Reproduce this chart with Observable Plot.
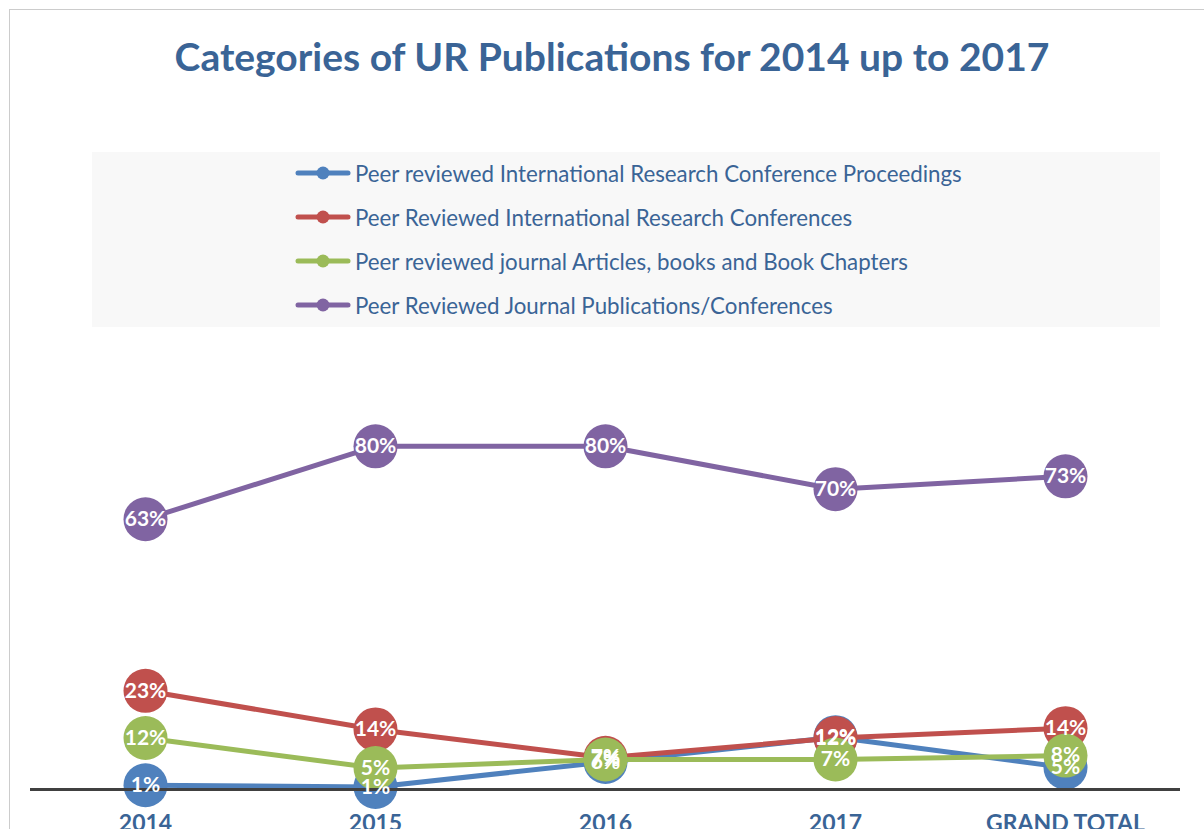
<!DOCTYPE html>
<html><head><meta charset="utf-8">
<script src="https://cdn.jsdelivr.net/npm/d3@7"></script>
<script src="https://cdn.jsdelivr.net/npm/@observablehq/plot@0.6"></script>
<style>
body{margin:0;background:#fff;width:1204px;height:829px;overflow:hidden;position:relative;font-family:Lato,sans-serif;}
#frame{position:absolute;left:9px;top:9px;width:1300px;height:900px;border:1.5px solid #cccccc;}
#title{position:absolute;left:0;top:33px;width:1224px;text-align:center;font-weight:bold;font-size:39px;color:#3a6496;}
#legend{position:absolute;left:92px;top:152px;width:1068px;height:175px;background:#f8f8f8;}
.item{position:absolute;left:203px;height:30px;display:flex;align-items:center;font-size:22.3px;color:#3a6496;white-space:nowrap;}
.item svg{margin-right:4px;}
#chart{position:absolute;left:0;top:340px;}
</style></head><body>
<div id="frame"></div>
<div id="title">Categories of UR Publications for 2014 up to 2017</div>
<div id="legend"></div>
<div id="chart"></div>
<script>
const categories = ["2014", "2015", "2016", "2017", "GRAND TOTAL"];
const seriesNames = [
  "Peer reviewed International Research Conference Proceedings",
  "Peer Reviewed International Research Conferences",
  "Peer reviewed journal Articles, books and Book Chapters",
  "Peer Reviewed Journal Publications/Conferences"
];
const seriesColors = ["#4f81bd", "#c0504d", "#9bbb59", "#8064a2"];
const proceedingsValues = [1.0, 0.6, 6.4, 12.2, 5.1];
const conferencesValues = [23, 14, 7.4, 12.0, 14.3];
const articlesValues = [12, 5, 7.0, 7.0, 7.9];
const journalValues = [63, 80, 80, 70, 73];

const allValues = [proceedingsValues, conferencesValues, articlesValues, journalValues];
const data = [];
allValues.forEach((vals, s) => vals.forEach((v, i) => data.push({series: seriesNames[s], color: seriesColors[s], cat: categories[i], value: v})));

// legend
const legend = document.getElementById("legend");
seriesNames.forEach((name, i) => {
  const div = document.createElement("div");
  div.className = "item";
  div.style.top = (173 - 152 - 15 + i * 44) + "px";
  const c = seriesColors[i];
  div.innerHTML = `<svg width="56" height="14"><line x1="3" y1="7" x2="53" y2="7" stroke="${c}" stroke-width="5" stroke-linecap="round"/><circle cx="28" cy="7" r="6.5" fill="${c}"/></svg><span>${name}</span>`;
  legend.appendChild(div);
});

const marks = [];
seriesNames.forEach((name, s) => {
  const d = data.filter(r => r.series === name);
  marks.push(Plot.line(d, {x: "cat", y: "value", stroke: seriesColors[s], strokeWidth: 5}));
  marks.push(Plot.dot(d, {x: "cat", y: "value", r: 22, fill: seriesColors[s], stroke: "none"}));
});
marks.push(Plot.ruleY([0], {stroke: "#404040", strokeWidth: 3}));
marks.push(Plot.text(data, {x: "cat", y: "value", text: d => Math.round(d.value) + "%", fill: "white", fontSize: 21, fontWeight: "bold"}));
marks.push(Plot.axisX({tickSize: 0, tickPadding: 25, fontSize: 23, fontWeight: "bold", fill: "#3a6496", label: null}));

const chart = Plot.plot({
  width: 1204, height: 500,
  marginLeft: 30, marginRight: 24, marginTop: 20, marginBottom: 51,
  style: {fontFamily: "Lato, sans-serif", background: "transparent", overflow: "visible"},
  x: {type: "point", domain: categories, padding: 0.5, label: null},
  y: {domain: [0, 100], axis: null},
  marks
});
document.getElementById("chart").appendChild(chart);
</script>
</body></html>
